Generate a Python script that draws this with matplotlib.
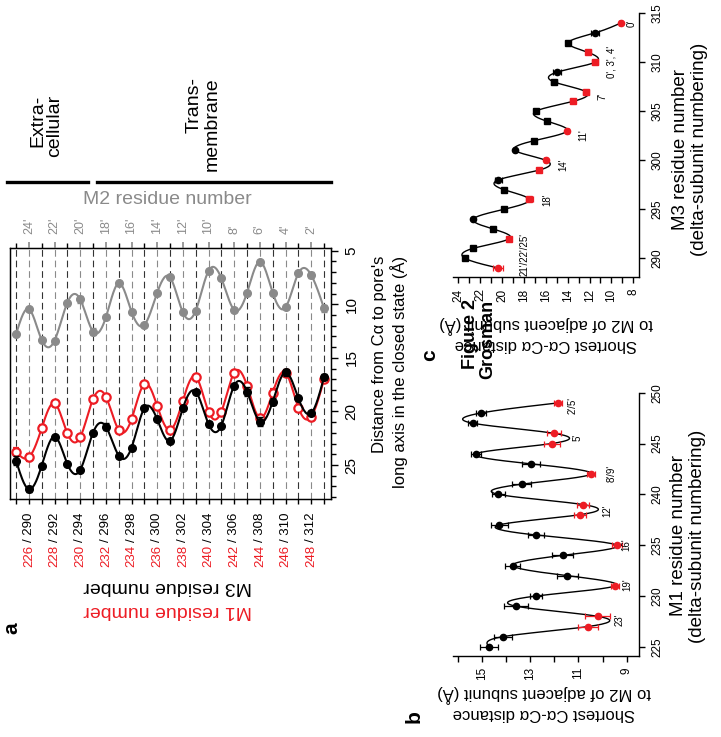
import numpy as np
import matplotlib
matplotlib.use("Agg")
import matplotlib.pyplot as plt
from matplotlib.lines import Line2D

plt.rcParams["font.family"] = ["Liberation Sans", "DejaVu Sans"]

W, H = 721, 737
RED = "#ed1c24"
GRAY = "#8a8a8a"

# ---- panel a: distance of C-alpha to pore axis (closed state) ----
a_res = list(range(225, 250))
a_m2 = [12.80, 10.44, 13.33, 13.39, 9.85, 9.54, 12.55, 11.22, 8.04, 10.69, 11.93, 8.92, 7.49,
        10.75, 10.60, 6.89, 7.58, 10.53, 8.92, 6.02, 8.92, 10.29, 7.11, 7.27, 10.38]
a_m1 = [23.75, 24.28, 21.57, 19.24, 22.04, 22.41, 18.86, 18.62, 21.73, 20.73, 17.43, 19.49, 21.73,
        19.00, 16.75, 20.02, 20.02, 16.38, 17.59, 20.63, 18.25, 16.38, 19.65, 20.49, 17.00]
a_m3 = [24.59, 27.26, 25.06, 22.35, 24.90, 25.46, 21.98, 21.42, 24.12, 23.38, 19.70, 20.73, 22.75,
        19.70, 18.15, 21.17, 21.32, 17.59, 18.15, 20.95, 19.09, 16.35, 18.77, 20.17, 16.81]
a_m2_err = [0, 0, 0, 0, 0, 0.3, 0.3, 0, 0, 0, 0, 0, 0, 0, 0, 0, 0, 0, 0, 0, 0, 0, 0, 0.3, 0.3]
a_m1_err = [0.3, 0.3, 0.3, 0, 0, 0, 0, 0, 0, 0, 0, 0, 0, 0, 0, 0, 0, 0, 0, 0, 0.3, 0, 0, 0, 0]
a_m3_err = [0.45, 0.3, 0, 0, 0, 0, 0, 0.3, 0, 0, 0, 0, 0, 0, 0, 0.3, 0, 0, 0.45, 0.4, 0.3, 0.3, 0, 0, 0.3]
a_m1_labels = [226, 228, 230, 232, 234, 236, 238, 240, 242, 244, 246, 248]
a_m3_labels = [290, 292, 294, 296, 298, 300, 302, 304, 306, 308, 310, 312]
a_m2_labels = ["24'", "22'", "20'", "18'", "16'", "14'", "12'", "10'", "8'", "6'", "4'", "2'"]
a_dist_ticks = [5, 10, 15, 20, 25]

# ---- panel b: M1 residues ----
b_res = list(range(225, 250))
b_dist = [14.69, 14.13, 10.59, 10.20, 13.58, 12.75, 9.48, 11.46, 13.72, 11.65, 9.41, 12.75, 14.27,
          10.93, 10.82, 14.31, 13.35, 10.48, 12.96, 15.24, 12.10, 12.00, 15.37, 15.04, 11.83]
b_err = [0.38, 0.38, 0.41, 0.52, 0.50, 0.24, 0.17, 0.44, 0.30, 0.44, 0.20, 0.34, 0.34,
         0.25, 0.25, 0.28, 0.41, 0.17, 0.36, 0.20, 0.34, 0.30, 0.18, 0.20, 0.17]
b_red = [227, 228, 231, 235, 238, 239, 242, 245, 246, 249]
b_notes = ["23'", "19'", "16'", "12'", "8'/9'", "5'", "2'/5'"]
b_note_px = [(620, 620), (627, 585), (626, 545), (607, 511), (612, 473), (578, 437), (573, 405)]

# ---- panel c: M3 residues ----
c_res = list(range(289, 315))
c_dist = [20.34, 23.39, 22.68, 19.34, 20.86, 22.63, 19.82, 17.51, 19.82, 20.34, 16.60, 16.01, 18.82,
          17.08, 14.04, 15.92, 16.93, 13.54, 12.33, 15.25, 14.95, 11.50, 12.12, 13.95, 11.50, 9.16]
c_err = [0.45, 0.12, 0.12, 0.20, 0.12, 0.12, 0.12, 0.30, 0.12, 0.30, 0.20, 0.12, 0.12,
         0.12, 0.12, 0.12, 0.12, 0.25, 0.30, 0.30, 0.35, 0.30, 0.25, 0.12, 0.35, 0.12]
c_red = [289, 292, 296, 299, 300, 303, 306, 307, 310, 311, 314]
c_circle = [289, 294, 298, 300, 301, 303, 309, 313, 314]
c_notes = ["21'/22'/25'", "18'", "14'", "11'", "7'", "0', 3', 4'", "0'"]
c_note_px = [(525, 255), (547, 200), (563, 165), (583, 135), (602, 96), (611, 62), (632, 23)]


def px(x, y):
    return x / W, 1 - y / H


def rect(x0, y0, x1, y1):
    return [x0 / W, 1 - y1 / H, (x1 - x0) / W, (y1 - y0) / H]


def smooth(x, y, num=400):
    # natural cubic spline through the points
    x = np.asarray(x, float)
    y = np.asarray(y, float)
    n = len(x)
    h = np.diff(x)
    A = np.zeros((n, n))
    b = np.zeros(n)
    A[0, 0] = A[-1, -1] = 1
    for i in range(1, n - 1):
        A[i, i - 1] = h[i - 1]
        A[i, i] = 2 * (h[i - 1] + h[i])
        A[i, i + 1] = h[i]
        b[i] = 6 * ((y[i + 1] - y[i]) / h[i] - (y[i] - y[i - 1]) / h[i - 1])
    m = np.linalg.solve(A, b)
    xs = np.linspace(x[0], x[-1], num)
    idx = np.clip(np.searchsorted(x, xs) - 1, 0, n - 2)
    t0, t1 = x[idx], x[idx + 1]
    hh = t1 - t0
    p = (t1 - xs) / hh
    q = (xs - t0) / hh
    ys = p * y[idx] + q * y[idx + 1] + ((p ** 3 - p) * m[idx] + (q ** 3 - q) * m[idx + 1]) * hh ** 2 / 6
    return xs, ys


fig = plt.figure(figsize=(W / 100, H / 100), dpi=100)

# ================= panel a =================
ax = fig.add_axes(rect(10, 248.3, 330.7, 499.3))
for r in a_res:
    ax.axvline(r, color=GRAY if r in a_m1_labels else "#333333", lw=0.8,
               ls=(0, (6, 3.5)), zorder=0)

xs, ys = smooth(a_res, a_m2)
ax.plot(xs, ys, color=GRAY, lw=1.5, zorder=2)
ax.errorbar(a_res, a_m2, yerr=a_m2_err, fmt="o", color=GRAY, ms=5.5, ecolor=GRAY,
            elinewidth=1, capsize=2.5, capthick=1, zorder=3)

xs, ys = smooth(a_res, a_m1)
ax.plot(xs, ys, color=RED, lw=1.5, zorder=2)
ax.errorbar(a_res, a_m1, yerr=a_m1_err, fmt="o", color=RED, mfc="white", mec=RED, mew=1.6,
            ms=6, ecolor=RED, elinewidth=1, capsize=2.5, capthick=1, zorder=3)

xs, ys = smooth(a_res, a_m3)
ax.plot(xs, ys, color="black", lw=1.5, zorder=4)
ax.errorbar(a_res, a_m3, yerr=a_m3_err, fmt="o", color="black", ms=5.5, ecolor="black",
            elinewidth=1, capsize=2.5, capthick=1, zorder=5)

ax.set_xlim(224.53, 249.52)
ax.set_ylim(28.2, 4.78)
ax.set_xticks(a_m1_labels, [f"/ {m}" for m in a_m3_labels], rotation=90,
              ha="center", va="top", fontsize=9.5)
ax.set_xticks(a_res, minor=True)
ax.tick_params(axis="x", which="both", direction="out", length=3.6, width=1, pad=6)
ax.yaxis.tick_right()
ax.set_yticks(a_dist_ticks, [str(v) for v in a_dist_ticks], rotation=90,
              ha="left", va="center", fontsize=11)
ax.set_yticks(np.arange(5, 29), minor=True)
ax.tick_params(axis="y", which="major", direction="out", length=5, width=1, pad=5)
ax.tick_params(axis="y", which="minor", direction="out", length=3.4, width=1)
for s in ax.spines.values():
    s.set_linewidth(1)
for r in a_m1_labels:
    ax.annotate(str(r), xy=(r, 0), xycoords=("data", "axes fraction"), xytext=(0, -32.5),
                textcoords="offset points", rotation=90, ha="center", va="top",
                color=RED, fontsize=9.5)

axt = ax.twiny()
axt.set_xlim(ax.get_xlim())
axt.set_xticks(a_m1_labels, a_m2_labels, rotation=90, ha="center", va="bottom",
               fontsize=9, color=GRAY)
axt.set_xticks(a_res, minor=True)
axt.tick_params(axis="x", which="major", direction="out", length=4, width=1.2, color=GRAY, pad=6)
axt.tick_params(axis="x", which="minor", direction="out", length=3.6, width=1)

fig.text(*px(167, 200), "M2 residue number", color=GRAY, fontsize=14, ha="center", va="center")
fig.add_artist(Line2D([7 / W, 88 / W], [1 - 181.7 / H] * 2, color="black", lw=2.4))
fig.add_artist(Line2D([97 / W, 331 / W], [1 - 181.7 / H] * 2, color="black", lw=2.4))
fig.text(*px(46, 126), "Extra-\ncellular", rotation=90, fontsize=14, ha="center", va="center",
         multialignment="right", linespacing=1.0)
fig.text(*px(203, 124), "Trans-\nmembrane", rotation=90, fontsize=14, ha="center", va="center",
         multialignment="right", linespacing=1.05)
fig.text(*px(390, 372), "Distance from C\u03b1 to pore's\nlong axis in the closed state (\u00c5)",
         rotation=90, fontsize=12, ha="center", va="center", multialignment="right")
fig.text(*px(168, 586), "M3 residue number", rotation=180, fontsize=14, ha="center", va="center")
fig.text(*px(168, 610), "M1 residue number", rotation=180, fontsize=14, ha="center", va="center",
         color=RED)
fig.text(*px(12, 628), "a", rotation=90, fontsize=15, fontweight="bold", ha="center", va="center")


def side_panel(box, res, dist, err, red, circles, xlim, ylim, xticks, xminor, yticks):
    axp = fig.add_axes(rect(*box))
    xs, ys = smooth(res, dist)
    axp.plot(ys, xs, color="black", lw=1, zorder=2)
    for r, d, e in zip(res, dist, err):
        col = RED if r in red else "black"
        mk = "o" if (circles is None or r in circles) else "s"
        axp.errorbar([d], [r], xerr=[e], fmt=mk, color=col, ms=4.5 if mk == "o" else 4,
                     ecolor=col, elinewidth=0.9, capsize=2, capthick=0.9, zorder=3)
    axp.set_xlim(*xlim)
    axp.set_ylim(*ylim)
    axp.spines["top"].set_visible(False)
    axp.spines["left"].set_visible(False)
    for s in ("bottom", "right"):
        axp.spines[s].set_linewidth(1)
    axp.yaxis.tick_right()
    axp.set_xticks(xticks, [str(v) for v in xticks], rotation=90, ha="center", va="top",
                   fontsize=8.5)
    axp.set_xticks(xminor, minor=True)
    axp.set_yticks(yticks, [str(v) for v in yticks], rotation=90, ha="left", va="center",
                   fontsize=8.5)
    axp.tick_params(which="both", direction="out", length=4, width=1)
    axp.tick_params(axis="x", which="major", pad=4)
    axp.tick_params(axis="y", which="major", pad=5)
    return axp


# ================= panel b =================
side_panel((453.3, 392.7, 639.3, 656), b_res, b_dist, b_err, b_red, None,
           (16.175, 8.48), (224.1, 250), [9, 11, 13, 15], [10, 12, 14, 16],
           [225, 230, 235, 240, 245, 250])
for t, (x, y) in zip(b_notes, b_note_px):
    fig.text(*px(x, y), t, rotation=90, fontsize=7, ha="center", va="center")
fig.text(*px(688, 536), "M1 residue number\n(delta-subunit numbering)", rotation=90,
         fontsize=13.5, ha="center", va="center", linespacing=1.1)
fig.text(*px(544, 703), "Shortest C\u03b1-C\u03b1 distance\nto M2 of adjacent subunit (\u00c5)",
         rotation=180, fontsize=12, ha="center", va="center")
fig.text(*px(414, 717), "b", rotation=90, fontsize=15, fontweight="bold", ha="center", va="center")

# ================= panel c =================
side_panel((453.3, 13.3, 639.3, 277.3), c_res, c_dist, c_err, c_red, c_circle,
           (24.46, 7.45), (288.06, 315), [8, 10, 12, 14, 16, 18, 20, 22, 24],
           [9, 11, 13, 15, 17, 19, 21, 23], [290, 295, 300, 305, 310, 315])
for t, (x, y) in zip(c_notes, c_note_px):
    fig.text(*px(x, y), t, rotation=90, fontsize=7, ha="center", va="center")
fig.text(*px(690, 149), "M3 residue number\n(delta-subunit numbering)", rotation=90,
         fontsize=13.5, ha="center", va="center", linespacing=1.1)
fig.text(*px(546, 334), "Shortest C\u03b1-C\u03b1 distance\nto M2 of adjacent subunit (\u00c5)",
         rotation=180, fontsize=12, ha="center", va="center")
fig.text(*px(430, 355), "c", rotation=90, fontsize=15, fontweight="bold", ha="center", va="center")

fig.text(*px(479, 339), "Figure 2\nGrosman", rotation=90, fontsize=13, fontweight="bold",
         ha="center", va="center", multialignment="right", linespacing=1.05)

fig.savefig("out.png", dpi=100)
